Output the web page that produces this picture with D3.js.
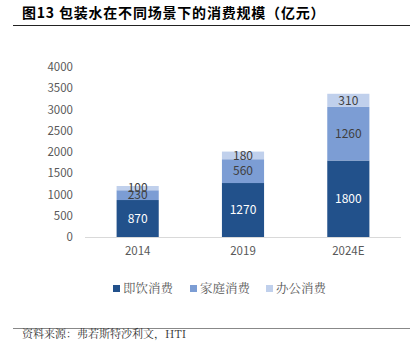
<!DOCTYPE html>
<html>
<head>
<meta charset="utf-8">
<script src="https://cdn.jsdelivr.net/npm/d3@7"></script>
<style>
  html, body { margin: 0; padding: 0; background: #fff; }
  svg { display: block; }
</style>
</head>
<body>
<svg id="chart" width="410" height="341"></svg>
<script>
// Packaged water consumption by scenario (100 million yuan)
const years = ["2014", "2019", "2024E"];
const seriesNames = ["即饮消费", "家庭消费", "办公消费"];
const readyToDrink = [870, 1270, 1800];
const household = [230, 560, 1260];
const office = [100, 180, 310];
const yTicks = [0, 500, 1000, 1500, 2000, 2500, 3000, 3500, 4000];
const colors = ["#22518B", "#7C9DD4", "#C0D0EC"];
const labelColors = ["#ffffff", "#404040", "#404040"];

const svg = d3.select("#chart");
const font = "'Noto Sans CJK SC', 'Noto Sans', sans-serif";
const serif = "'Noto Serif CJK SC', 'Noto Sans CJK SC', serif";

// Title and rules
svg.append("text").attr("x", 22).attr("y", 18)
  .attr("font-family", font).attr("font-weight", "bold")
  .attr("font-size", 14).attr("letter-spacing", 0.8).attr("fill", "#000")
  .text("图13 包装水在不同场景下的消费规模（亿元）");
svg.append("line").attr("x1", 13).attr("x2", 410).attr("y1", 25.5).attr("y2", 25.5)
  .attr("stroke", "#222").attr("stroke-width", 1);
svg.append("line").attr("x1", 13).attr("x2", 410).attr("y1", 328.5).attr("y2", 328.5)
  .attr("stroke", "#888").attr("stroke-width", 1);
svg.append("text").attr("x", 22).attr("y", 338)
  .attr("font-family", serif)
  .attr("font-size", 11).attr("fill", "#333")
  .text("资料来源：弗若斯特沙利文，HTI");

// Scales
const x = d3.scaleBand().domain(years).range([85, 401]).paddingInner(0.6).paddingOuter(0.3);
const y = d3.scaleLinear().domain([0, 4000]).range([237, 67]);

const rows = years.map((yr, i) => ({ year: yr, s0: readyToDrink[i], s1: household[i], s2: office[i] }));
const stack = d3.stack().keys(["s0", "s1", "s2"])(rows);

// Y axis labels
const yAxis = svg.append("g").attr("transform", "translate(73,0)")
  .call(d3.axisLeft(y).tickValues(yTicks).tickFormat(d3.format("d")).tickSize(0).tickPadding(0));
yAxis.select(".domain").remove();
yAxis.selectAll("text").attr("font-family", font).attr("font-size", 11.5).attr("fill", "#595959");

// Bars
stack.forEach((layer, k) => {
  const g = svg.append("g");
  g.selectAll("rect").data(layer).join("rect")
    .attr("x", d => x(d.data.year))
    .attr("width", x.bandwidth())
    .attr("y", d => y(d[1]))
    .attr("height", d => y(d[0]) - y(d[1]))
    .attr("fill", colors[k]);
  g.selectAll("text").data(layer).join("text")
    .attr("x", d => x(d.data.year) + x.bandwidth() / 2)
    .attr("y", d => (y(d[0]) + y(d[1])) / 2)
    .attr("dy", "0.36em")
    .attr("text-anchor", "middle")
    .attr("font-family", font).attr("font-size", 12)
    .attr("fill", labelColors[k])
    .text(d => d[1] - d[0]);
});

// X axis
const xAxis = svg.append("g").attr("transform", "translate(0,237)")
  .call(d3.axisBottom(x).tickSize(0).tickPadding(10));
xAxis.select(".domain").attr("stroke", "#d9d9d9").attr("d", "M85,0.5H401");
xAxis.selectAll("text").attr("font-family", font).attr("font-size", 11.5).attr("fill", "#595959");

// Legend
const legendX = [113, 190, 266];
const legend = svg.append("g");
seriesNames.forEach((name, k) => {
  legend.append("rect").attr("x", legendX[k]).attr("y", 285).attr("width", 7).attr("height", 7)
    .attr("fill", colors[k]);
  legend.append("text").attr("x", legendX[k] + 10).attr("y", 288.5).attr("dy", "0.36em")
    .attr("font-family", serif)
    .attr("font-size", 12.5).attr("fill", "#595959").text(name);
});
</script>
</body>
</html>
